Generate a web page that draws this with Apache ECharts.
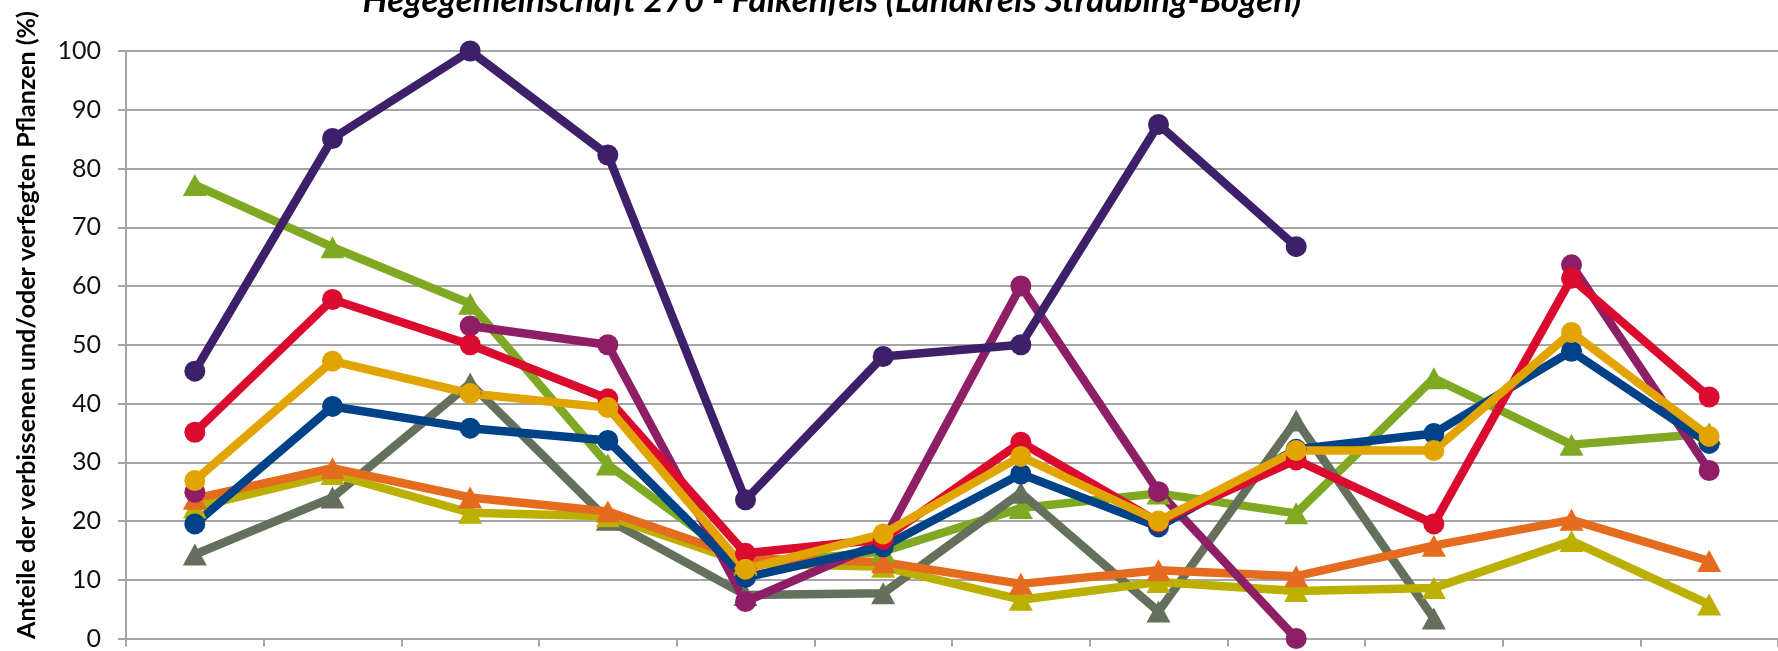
<!DOCTYPE html>
<html>
<head>
<meta charset="utf-8">
<script src="https://cdn.jsdelivr.net/npm/echarts@6/dist/echarts.min.js"></script>
<style>
html,body{margin:0;padding:0;background:#fff;}
#chart{width:1778px;height:651px;}
</style>
</head>
<body>
<div id="chart"></div>
<script>
// Survey years (axis labels lie outside the visible crop)
const categories = ['1991','1994','1997','2000','2003','2006','2009','2012','2015','2018','2021','2024'];
const yTicks = [0,10,20,30,40,50,60,70,80,90,100];

const titleText = 'Hegegemeinschaft 270 - Falkenfels (Landkreis Straubing-Bogen)';
const yAxisTitle = 'Anteile der verbissenen und/oder verfegten Pflanzen (%)';

// series values (%)
const sPurple  = [45.5, 85.1, 100, 82.3, 23.6, 48.0, 50.0, 87.5, 66.7, null, null, null];
const sRed     = [35.1, 57.7, 50.0, 40.8, 14.5, 16.9, 33.4, 19.8, 30.4, 19.5, 61.3, 41.1];
const sGold    = [26.9, 47.2, 41.7, 39.3, 11.8, 17.8, 31.0, 20.0, 32.0, 32.0, 52.1, 34.4];
const sBlue    = [19.5, 39.5, 35.8, 33.7, 10.4, 15.6, 28.0, 19.0, 32.2, 34.9, 48.9, 33.2];
const sMagenta = [24.9, null, 53.2, 50.0, 6.3, 16.5, 60.0, 25.0, 0, null, 63.6, 28.6];
const sGreen   = [77.2, 66.6, 57.0, 29.6, 12.5, 14.8, 22.2, 24.7, 21.3, 44.3, 33.0, 34.9];
const sGray    = [14.3, 24.0, 43.4, 20.2, 7.4, 7.7, 24.8, 4.6, 37.1, 3.4, null, null];
const sOrange  = [23.8, 29.0, 24.0, 21.6, 13.6, 13.0, 9.3, 11.6, 10.6, 15.8, 20.2, 13.2];
const sOlive   = [22.3, 28.0, 21.4, 20.8, 12.8, 12.2, 6.6, 9.6, 8.1, 8.6, 16.6, 5.8];

// drawing order: first = bottom
const seriesDefs = [
  {name:'Reihe 6', data:sGreen,   color:'#7FA823', symbol:'triangle'},
  {name:'Reihe 7', data:sGray,    color:'#64705C', symbol:'triangle'},
  {name:'Reihe 9', data:sOlive,   color:'#BBB000', symbol:'triangle'},
  {name:'Reihe 8', data:sOrange,  color:'#E56B1F', symbol:'triangle'},
  {name:'Reihe 5', data:sMagenta, color:'#8E1F67', symbol:'circle'},
  {name:'Reihe 1', data:sPurple,  color:'#3E206A', symbol:'circle'},
  {name:'Reihe 4', data:sBlue,    color:'#004287', symbol:'circle'},
  {name:'Reihe 2', data:sRed,     color:'#DB0B2F', symbol:'circle'},
  {name:'Reihe 3', data:sGold,    color:'#E2A400', symbol:'circle'}
];

const chart = echarts.init(document.getElementById('chart'), null, {renderer:'canvas'});
const FONT = 'Lato, "Open Sans", sans-serif';

chart.setOption({
  backgroundColor:'#ffffff',
  animation:false,
  grid:{left:126, top:51, width:1664, height:593, containLabel:false},
  xAxis:{
    type:'category',
    data:categories,
    boundaryGap:true,
    axisLine:{lineStyle:{color:'#A5A5A5', width:2}},
    axisTick:{show:true, length:8, lineStyle:{color:'#A5A5A5', width:2}},
    axisLabel:{show:false}
  },
  yAxis:{
    type:'value',
    min:yTicks[0], max:yTicks[yTicks.length-1], interval:10,
    axisLine:{show:true, lineStyle:{color:'#A5A5A5', width:2}},
    axisTick:{show:true, length:8, lineStyle:{color:'#A5A5A5', width:2}},
    splitLine:{show:true, lineStyle:{color:'#A5A5A5', width:2}},
    axisLabel:{margin:25, fontFamily:FONT, fontSize:25, color:'#111'}
  },
  graphic:[
    {type:'text', x:832, y:1, z:100,
     style:{text:titleText, font:'italic bold 35px Lato, sans-serif', fill:'#000', align:'center', verticalAlign:'middle'}},
    {type:'text', x:27, y:325, rotation:Math.PI/2, z:100,
     style:{text:yAxisTitle, font:'bold 25px Lato, sans-serif', fill:'#000', align:'center', verticalAlign:'middle'}}
  ],
  series: seriesDefs.map(d => ({
    name:d.name,
    type:'line',
    data:d.data,
    connectNulls:false,
    symbol:d.symbol,
    symbolSize: d.symbol==='circle' ? 21 : [24,22],
    showAllSymbol:true,
    lineStyle:{color:d.color, width:8.5, cap:'round', join:'round'},
    itemStyle:{color:d.color, borderWidth:0},
    emphasis:{disabled:true}
  }))
});
</script>
</body>
</html>
